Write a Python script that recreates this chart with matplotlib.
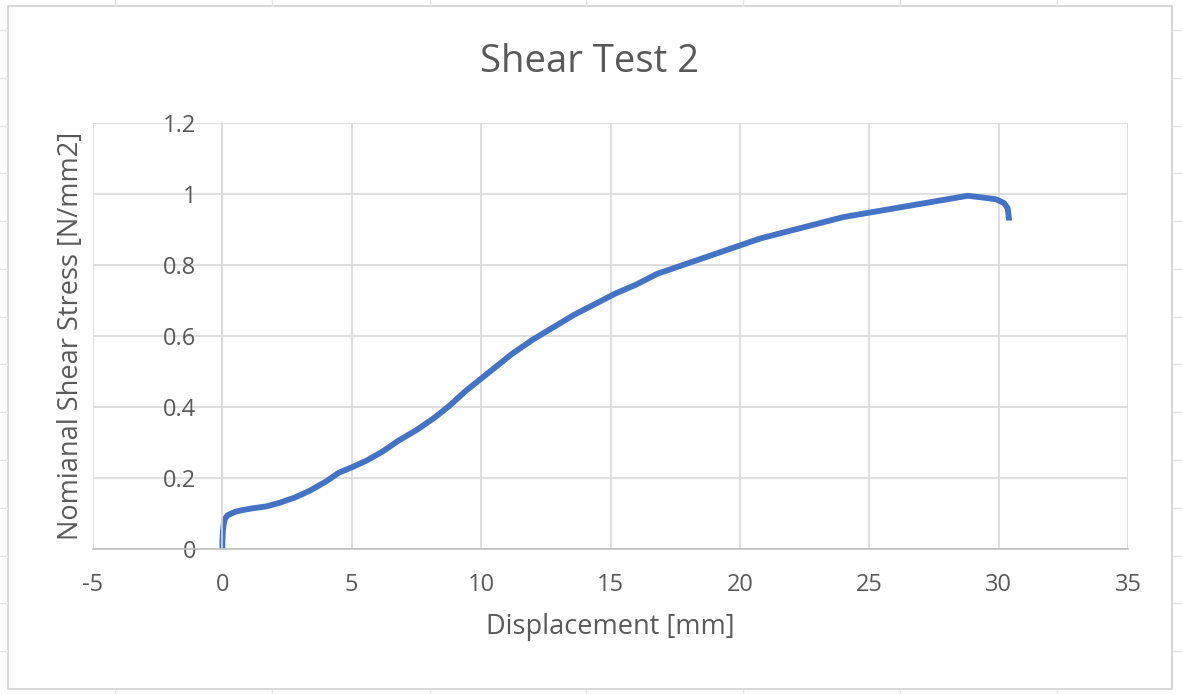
import matplotlib.pyplot as plt
from matplotlib.lines import Line2D
from matplotlib.patches import Rectangle

# Shear test 2 - displacement vs nominal shear stress
displacement = [0.0, 0.0, 0.02, 0.05, 0.1, 0.2, 0.35, 0.5, 0.8, 1.2, 1.7, 2.2,
                2.8, 3.4, 4.0, 4.5, 5.0, 5.6, 6.2, 6.8, 7.5, 8.2, 8.8, 9.4,
                10.0, 10.6, 11.2, 12.0, 12.8, 13.6, 14.4, 15.2, 16.0, 16.8,
                17.6, 18.4, 19.2, 20.0, 20.8, 21.6, 22.4, 23.2, 24.0, 24.8,
                25.6, 26.4, 27.2, 28.0, 28.8, 29.4, 29.9, 30.2, 30.35, 30.4,
                30.4]
stress = [0.0, 0.02, 0.05, 0.07, 0.085, 0.095, 0.10, 0.105, 0.11, 0.115,
          0.12, 0.13, 0.145, 0.165, 0.19, 0.215, 0.23, 0.25, 0.275, 0.305,
          0.335, 0.37, 0.405, 0.445, 0.48, 0.515, 0.55, 0.59, 0.625, 0.66,
          0.69, 0.72, 0.745, 0.775, 0.795, 0.815, 0.835, 0.855, 0.875, 0.89,
          0.905, 0.92, 0.935, 0.945, 0.955, 0.965, 0.975, 0.985, 0.995, 0.99,
          0.985, 0.975, 0.96, 0.93, 0.925]

x_ticks = [-5, 0, 5, 10, 15, 20, 25, 30, 35]
x_tick_labels = ['-5', '0', '5', '10', '15', '20', '25', '30', '35']
y_ticks = [0, 0.2, 0.4, 0.6, 0.8, 1.0, 1.2]
y_tick_labels = ['0', '0.2', '0.4', '0.6', '0.8', '1', '1.2']

plt.rcParams['font.family'] = ['Open Sans', 'DejaVu Sans']
text_col = '#595959'
grid_col = '#D9D9D9'

fig = plt.figure(figsize=(11.82, 6.94), dpi=100)
W, H = 1182, 694

# spreadsheet cell lines peeking out around the chart
for px in [115, 272, 430, 586, 743, 900, 1057]:
    fig.add_artist(Line2D([px / W, px / W], [1 - 6 / H, 1], color='#E3E3E3', lw=1))
    fig.add_artist(Line2D([px / W, px / W], [0, 5 / H], color='#E3E3E3', lw=1))
for py in [30, 78, 126, 173, 221, 269, 317, 364, 412, 460, 508, 556, 603, 651]:
    fig.add_artist(Line2D([0, 7 / W], [1 - py / H, 1 - py / H], color='#E3E3E3', lw=1))
    fig.add_artist(Line2D([1 - 9 / W, 1], [1 - py / H, 1 - py / H], color='#E3E3E3', lw=1))

# chart border
fig.add_artist(Rectangle((8 / W, 5 / H), (1172 - 8) / W, (689 - 6) / H,
                         fill=False, edgecolor='#D0D0D0', lw=1.2))

ax = fig.add_axes([93 / W, 1 - 549 / H, (1128 - 93) / W, (549 - 123) / H])
ax.plot(displacement, stress, color='#4472C4', lw=4.2,
        solid_capstyle='butt', solid_joinstyle='round')

ax.set_xlim(-5, 35)
ax.set_ylim(0, 1.2)
ax.set_xticks(x_ticks)
ax.set_xticklabels(x_tick_labels)
ax.set_yticks(y_ticks)
ax.set_yticklabels(y_tick_labels)
ax.grid(True, color=grid_col, lw=1.2)
ax.set_axisbelow(True)

for s in ['top', 'right']:
    ax.spines[s].set_visible(False)
ax.spines['left'].set_position(('data', 0))
ax.spines['left'].set_color(grid_col)
ax.spines['left'].set_linewidth(1.2)
ax.spines['bottom'].set_color('#BFBFBF')
ax.spines['bottom'].set_linewidth(1.2)

ax.tick_params(axis='x', length=0, pad=17, labelsize=17, labelcolor=text_col)
ax.tick_params(axis='y', length=0, pad=19, labelsize=17, labelcolor=text_col)

# title is centred on the chart box, not on the plot area
ax.set_title('Shear Test 2', fontsize=27.5, color=text_col, pad=37,
             x=(590 - 93) / 1035)
ax.set_xlabel('Displacement [mm]', fontsize=19.5, color=text_col, labelpad=12)
ax.set_ylabel('Nomianal Shear Stress [N/mm2]', fontsize=19.5, color=text_col)
ax.yaxis.set_label_coords(-0.008, 0.5)

fig.savefig('out.png', dpi=100, facecolor='white')
